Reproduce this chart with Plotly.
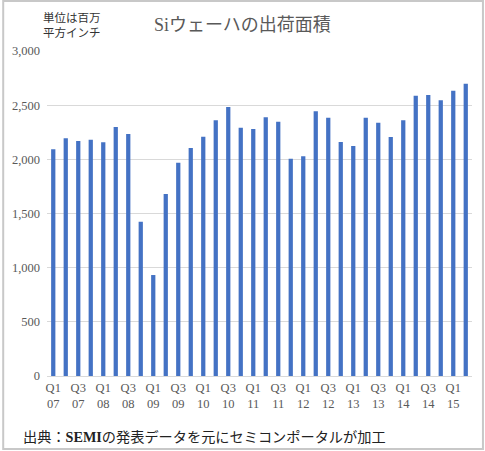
import plotly.graph_objects as go

# quarterly silicon wafer shipment area (million sq. inches)
quarters = []
for yr in range(7, 16):
    for q in range(1, 5):
        quarters.append('Q%d %02d' % (q, yr))
quarters = quarters[:34]  # Q1 07 .. Q2 15

area = [2092, 2194, 2169, 2181, 2157, 2298, 2234, 1425,
        932, 1680, 1969, 2105, 2209, 2360, 2483, 2292,
        2280, 2388, 2348, 2006, 2028, 2443, 2385, 2160,
        2123, 2385, 2338, 2206, 2360, 2588, 2594, 2545,
        2634, 2698]

tick_vals = quarters[::2]
tick_text = [q.replace(' ', '<br>') for q in tick_vals]

y_ticks = [0, 500, 1000, 1500, 2000, 2500, 3000]

serif = "'Liberation Serif', 'DejaVu Serif', 'Noto Sans CJK JP', serif"
jp = "'Noto Sans CJK JP', sans-serif"

fig = go.Figure(go.Bar(
    x=quarters,
    y=area,
    width=0.34,
    marker=dict(color='#4472C4', line=dict(width=0)),
))

W, H = 485, 451
L, R, T, B = 45, 13, 51, 75
pw, ph = W - L - R, H - T - B

def px(x):
    return (x - L) / pw

def py(y):
    return (H - B - y) / ph

fig.update_layout(
    width=W, height=H,
    margin=dict(l=L, r=R, t=T, b=B),
    paper_bgcolor='white',
    plot_bgcolor='white',
    showlegend=False,
    xaxis=dict(
        type='category',
        range=[-0.5, 33.5],
        tickvals=tick_vals,
        ticktext=tick_text,
        tickfont=dict(family=serif, size=12.5, color='#595959'),
        showgrid=False,
        showline=True,
        linecolor='#D9D9D9',
        linewidth=1,
        ticks='',
    ),
    yaxis=dict(
        range=[0, 3000],
        tickvals=y_ticks,
        ticktext=['{:,}'.format(v) for v in y_ticks],
        tickfont=dict(family=serif, size=12.5, color='#595959'),
        showgrid=True,
        gridcolor='#D9D9D9',
        gridwidth=1,
        zeroline=False,
        ticks='',
        ticklabelstandoff=6,
    ),
    shapes=[dict(
        type='rect', xref='paper', yref='paper',
        x0=px(1), x1=px(483), y0=py(449), y1=py(1),
        line=dict(color='#C8C8C8', width=2),
        fillcolor='rgba(0,0,0,0)',
        layer='above',
    )],
    annotations=[
        dict(text='Siウェーハの出荷面積', xref='paper', yref='paper',
             x=px(241), y=py(25), xanchor='center', yanchor='middle',
             showarrow=False,
             font=dict(family=serif, size=18, color='#595959')),
        dict(text='単位は百万<br>平方インチ', xref='paper', yref='paper',
             x=px(39), y=py(24), xanchor='left', yanchor='middle',
             align='left', showarrow=False,
             font=dict(family=jp, size=11.5, color='#333333')),
        dict(text='出典：<b>SEMI</b>の発表データを元にセミコンポータルが加工',
             xref='paper', yref='paper',
             x=px(19), y=py(437), xanchor='left', yanchor='middle',
             showarrow=False,
             font=dict(family=serif, size=14.2, color='#222222')),
    ],
)

# the default page has an 8px body margin; drop it so the figure fills the window
fig.write_html('out.html', config={'displayModeBar': False},
               post_script="document.body.style.margin='0';")
